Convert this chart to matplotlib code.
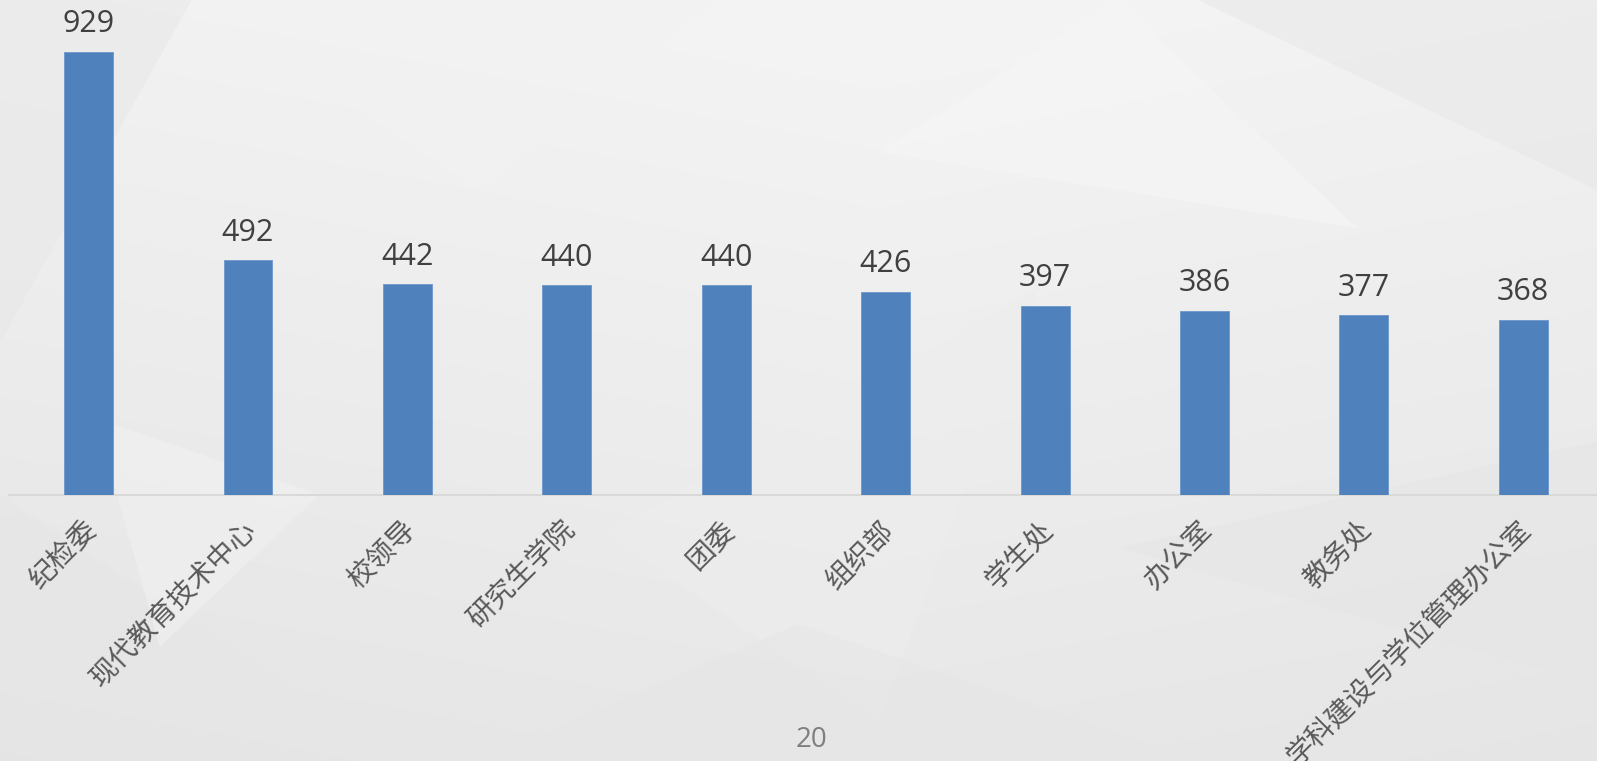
import matplotlib
matplotlib.use("Agg")
import matplotlib.pyplot as plt
import matplotlib.transforms as mtrans
import numpy as np
from matplotlib.patches import Polygon

categories = ["纪检委", "现代教育技术中心", "校领导", "研究生学院", "团委",
              "组织部", "学生处", "办公室", "教务处", "学科建设与学位管理办公室"]
values = [929, 492, 442, 440, 440, 426, 397, 386, 377, 368]
page_number = "20"

W, H = 1597, 761
fig = plt.figure(figsize=(W / 100, H / 100), dpi=100)

# --- background: soft gray low-poly style ---
bg = fig.add_axes([0, 0, 1, 1], zorder=-10)
bg.set_xlim(0, 1)
bg.set_ylim(0, 1)
bg.axis("off")
yy, xx = np.mgrid[0:1:200j, 0:1:400j]
grad = 0.955 - 0.05 * (1 - yy) - 0.02 * np.abs(xx - 0.55)
bg.imshow(grad, extent=[0, 1, 0, 1], origin="lower", cmap="gray", vmin=0, vmax=1,
          aspect="auto", interpolation="bicubic")
tris = [
    ([(0, 1), (0.12, 1), (0, 0.55)], 0.91),
    ([(0.12, 1), (0.45, 1), (0.3, 0.75)], 0.95),
    ([(0.38, 0.3), (0.65, 0.62), (0.55, 0.05)], 0.93),
    ([(0.0, 0.35), (0.25, 0.0), (0.0, 0.0)], 0.9),
    ([(0.3, 0.0), (0.5, 0.18), (0.75, 0.0)], 0.9),
    ([(0.7, 0.28), (1.0, 0.42), (1.0, 0.1)], 0.9),
    ([(0.75, 1), (1.0, 1), (1.0, 0.75)], 0.91),
    ([(0.55, 0.8), (0.7, 1.0), (0.85, 0.7)], 0.965),
    ([(0.06, 0.45), (0.2, 0.35), (0.1, 0.15)], 0.945),
]
for pts, g in tris:
    bg.add_patch(Polygon(pts, closed=True, facecolor=(g, g, g + 0.005), edgecolor="none", alpha=0.6))

# --- chart ---
left_px, right_px = 8.85, 1603.0
base_px = 266.0
px_per_unit = 443.0 / 929.0
ymax = 1000
ax = fig.add_axes([left_px / W, base_px / H, (right_px - left_px) / W, ymax * px_per_unit / H])
ax.patch.set_alpha(0)
x = np.arange(len(categories))
ax.bar(x, values, width=0.307, color="#4f81bd", edgecolor="#6b96cb", linewidth=0.6, zorder=3)
ax.set_xlim(-0.5, len(categories) - 0.5)
ax.set_ylim(0, ymax)
for s in ["top", "right", "left"]:
    ax.spines[s].set_visible(False)
ax.spines["bottom"].set_color("#d9d9d9")
ax.spines["bottom"].set_linewidth(1.5)
ax.set_yticks([])
ax.set_xticks(x)
ax.set_xticklabels(categories, rotation=45, ha="right", va="center", rotation_mode="anchor",
                   family=["Noto Sans CJK SC", "DejaVu Sans"], fontsize=20, color="#595959")
ax.tick_params(axis="x", length=0, pad=22)
offset = mtrans.ScaledTranslation(4 / 100, 0, fig.dpi_scale_trans)
for lab in ax.get_xticklabels():
    lab.set_transform(lab.get_transform() + offset)

for xi, v in zip(x, values):
    ax.annotate(str(v), (xi, v), xytext=(0, 9), textcoords="offset points",
                ha="center", va="bottom", fontsize=22, color="#404040",
                family=["Open Sans", "DejaVu Sans"], clip_on=False)

fig.text(812 / W, 1 - 740 / H, page_number, ha="center", va="center", fontsize=20,
         color="#7f7f7f", family=["Open Sans", "DejaVu Sans"])

fig.savefig("out.png", dpi=100)
